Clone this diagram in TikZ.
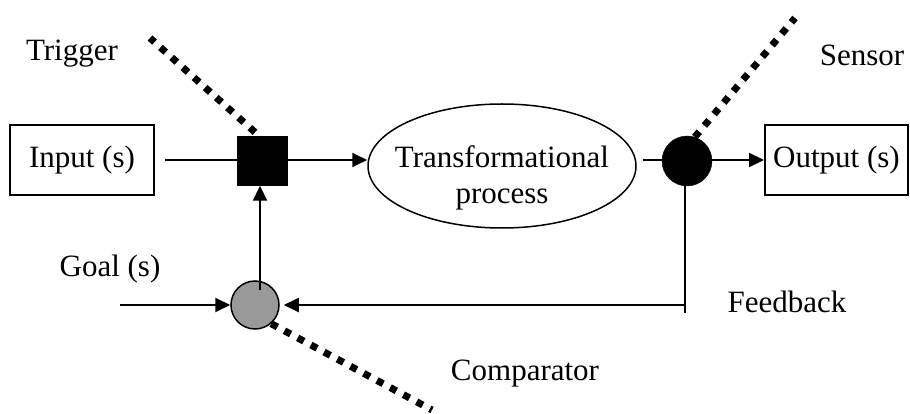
\documentclass[tikz,border=0pt]{standalone}
\usepackage{fontspec}
\setmainfont{Liberation Serif}
\usetikzlibrary{shapes.geometric,arrows.meta}
\begin{document}
\begin{tikzpicture}[x=1pt,y=-1pt,
  every node/.style={font=\fontsize{31}{36}\selectfont, inner sep=0pt},
  line/.style={line width=2pt},
  arr/.style={line width=2pt,-{Triangle[length=15pt,width=14pt]}},
  box/.style={draw,line width=2pt,rectangle,minimum width=144pt,minimum height=70pt},
  dots/.style={line width=7pt,dash pattern=on 7pt off 8pt},
  lbl/.style={text=black}]
\useasboundingbox (0,0) rectangle (910,414);
% nodes
\node[box] (input) at (82,160) {Input (s)};
\node[box,minimum width=143pt] (output) at (836.5,160) {Output (s)};
\node[draw,fill=black,minimum width=50pt,minimum height=49pt] (sq) at (262,161) {};
\node[draw,ellipse,line width=1.5pt,minimum width=268pt,minimum height=124pt] (ell) at (502,166) {};
\node[align=center] (ellt) at (502,178) {Transformational\\process};
\node[draw,circle,fill=black,minimum size=50pt] (sens) at (687,161) {};
\node[draw,circle,fill=black!40,line width=1.5pt,minimum size=48pt] (comp) at (255,305) {};
% labels
\node[lbl] (trig) at (72,54) {Trigger};
\node[lbl] (sensl) at (862,55) {Sensor};
\node[lbl] (goal) at (110,269) {Goal (s)};
\node[lbl] (fbl) at (787,302) {Feedback};
\node[lbl] (compl) at (525,374) {Comparator};
% coordinates
\coordinate (trigEnd) at (150,38);
\coordinate (sensEnd) at (795,18);
\coordinate (compEnd) at (432,410);
\coordinate (goalStart) at (120,305);
\coordinate (fb) at (685,313);
\coordinate (cu) at (260,290);
% connectors
\draw[line,shorten <=10pt] (input.east) -- (sq.west |- input.east);
\draw[arr] (sq.east |- input.east) -- (ell.west |- input.east);
\draw[line,shorten <=6pt] (ell.east |- input.east) -- (sens.west |- input.east);
\draw[arr] (sens.east |- input.east) -- (output.west);
\draw[line] (fb |- sens.south) -- (fb);
\draw[arr,shorten >=4pt] (fb |- comp.east) -- (comp.east);
\draw[arr] (goalStart) -- (comp.west);
\draw[arr] (cu) -- (cu |- sq.south);
% dotted markers
\draw[dots] ([xshift=-7pt,yshift=4pt]sq.north) -- (trigEnd);
\draw[dots] (sens.72) -- (sensEnd);
\draw[dots] (comp.-49) -- (compEnd);
\end{tikzpicture}
\end{document}
